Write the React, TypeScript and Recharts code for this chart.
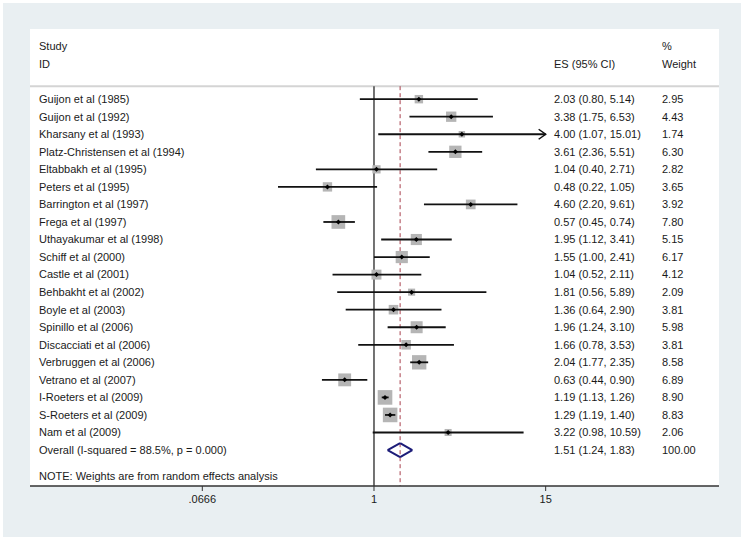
import React from 'react';
import { ScatterChart, Scatter, XAxis, YAxis, ReferenceLine, CartesianGrid, ErrorBar } from 'recharts';

const studies = [
  'Guijon et al (1985)',
  'Guijon et al (1992)',
  'Kharsany et al (1993)',
  'Platz-Christensen et al (1994)',
  'Eltabbakh et al (1995)',
  'Peters et al (1995)',
  'Barrington et al (1997)',
  'Frega et al (1997)',
  'Uthayakumar et al (1998)',
  'Schiff et al (2000)',
  'Castle et al (2001)',
  'Behbakht et al (2002)',
  'Boyle et al (2003)',
  'Spinillo et al (2006)',
  'Discacciati et al (2006)',
  'Verbruggen et al (2006)',
  'Vetrano et al (2007)',
  'I-Roeters et al (2009)',
  'S-Roeters et al (2009)',
  'Nam et al (2009)',
];
const es = [2.03, 3.38, 4.0, 3.61, 1.04, 0.48, 4.6, 0.57, 1.95, 1.55, 1.04, 1.81, 1.36, 1.96, 1.66, 2.04, 0.63, 1.19, 1.29, 3.22];
const lower = [0.8, 1.75, 1.07, 2.36, 0.4, 0.22, 2.2, 0.45, 1.12, 1.0, 0.52, 0.56, 0.64, 1.24, 0.78, 1.77, 0.44, 1.13, 1.19, 0.98];
const upper = [5.14, 6.53, 15.01, 5.51, 2.71, 1.05, 9.61, 0.74, 3.41, 2.41, 2.11, 5.89, 2.9, 3.1, 3.53, 2.35, 0.9, 1.26, 1.4, 10.59];
const weights = [2.95, 4.43, 1.74, 6.3, 2.82, 3.65, 3.92, 7.8, 5.15, 6.17, 4.12, 2.09, 3.81, 5.98, 3.81, 8.58, 6.89, 8.9, 8.83, 2.06];
const overall = { es: 1.51, lower: 1.24, upper: 1.83, weight: 100 };
const overallLabel = 'Overall  (I-squared = 88.5%, p = 0.000)';
const note = 'NOTE: Weights are from random effects analysis';
const xTicks = [1 / 15, 1, 15];
const xTickLabels = ['.0666', '1', '15'];

// layout
const W = 744;
const H = 540;
const margin = { top: 29, right: 23, bottom: 0, left: 29 };
const X_DOMAIN = [0.0044, 231];
const Y_DOMAIN = [-4, 22.05];
const ROW_STUDY = -3;
const ROW_ID = -2;
const ROW_SEP = -0.74;
const ROW_NOTE = 21.48;
const CLIP = 15;
const DIAMOND_H = 0.4;
const font = "'Liberation Sans', Arial, sans-serif";

const fmt = (v: number) => v.toFixed(2);

const rows = studies.map((name, i) => ({
  name,
  x: es[i],
  y: i,
  lo: lower[i],
  hi: upper[i],
  w: weights[i],
  // CI drawn as error bar, clipped at the right end of the axis
  err: [es[i] - lower[i], Math.min(upper[i], CLIP) - es[i]],
}));
const overallRow = studies.length;
const arrows = rows.filter((r) => r.hi > CLIP).map((r) => ({ x: CLIP, y: r.y }));

const nameLabels = new Map<number, string>([
  [ROW_STUDY, 'Study'],
  [ROW_ID, 'ID'],
  ...rows.map((r) => [r.y, r.name] as [number, string]),
  [overallRow, overallLabel],
  [ROW_NOTE, note],
]);
const esLabels = new Map<number, string>([
  [ROW_ID, 'ES (95% CI)'],
  ...rows.map((r) => [r.y, `${fmt(r.x)} (${fmt(r.lo)}, ${fmt(r.hi)})`] as [number, string]),
  [overallRow, `${fmt(overall.es)} (${fmt(overall.lower)}, ${fmt(overall.upper)})`],
]);
const weightLabels = new Map<number, string>([
  [ROW_STUDY, '%'],
  [ROW_ID, 'Weight'],
  ...rows.map((r) => [r.y, fmt(r.w)] as [number, string]),
  [overallRow, fmt(overall.weight)],
]);

const makeTick = (labels: Map<number, string>, left: number) => (props: any) => {
  const { y, payload } = props;
  const text = labels.get(payload.value);
  if (!text) return <g />;
  return (
    <text x={left} y={y} dy="0.35em" fontSize={11} fill="#1a1a1a" fontFamily={font} textAnchor="start">
      {text}
    </text>
  );
};

const StudyBox = (props: any) => {
  const { cx, cy, payload } = props;
  const s = 4.9 * Math.sqrt(payload.w);
  return <rect x={cx - s / 2} y={cy - s / 2} width={s} height={s} fill="#b5b5b5" />;
};

const StudyPoint = (props: any) => {
  const { cx, cy } = props;
  const r = 2.5;
  return <path d={`M${cx - r},${cy}L${cx},${cy - r}L${cx + r},${cy}L${cx},${cy + r}Z`} fill="#000" />;
};

const Arrow = (props: any) => {
  const { cx, cy } = props;
  return <path d={`M${cx - 7},${cy - 5}L${cx},${cy}L${cx - 7},${cy + 5}`} fill="none" stroke="#111" strokeWidth={1.5} />;
};

export default function App() {
  const diamond = [
    [{ x: overall.lower, y: overallRow }, { x: overall.es, y: overallRow - DIAMOND_H }],
    [{ x: overall.es, y: overallRow - DIAMOND_H }, { x: overall.upper, y: overallRow }],
    [{ x: overall.upper, y: overallRow }, { x: overall.es, y: overallRow + DIAMOND_H }],
    [{ x: overall.es, y: overallRow + DIAMOND_H }, { x: overall.lower, y: overallRow }],
  ];
  return (
    <div
      style={{
        position: 'absolute',
        left: 0,
        top: 0,
        width: W,
        height: H,
        background: '#e9eff2',
        boxSizing: 'border-box',
        border: '3px solid #fff',
      }}
    >
      <div style={{ position: 'absolute', left: -3, top: -3 }}>
        <ScatterChart width={W} height={H} margin={margin}>
          <CartesianGrid fill="#fff" horizontal={false} vertical={false} />
          <XAxis
            type="number"
            dataKey="x"
            scale="log"
            domain={X_DOMAIN}
            allowDataOverflow
            ticks={xTicks}
            tickFormatter={(v: number) => xTickLabels[xTicks.indexOf(v)]}
            axisLine={{ stroke: '#333', strokeWidth: 1.5 }}
            tickLine={{ stroke: '#333' }}
            tickSize={5}
            tickMargin={4}
            tick={{ fontSize: 11, fill: '#1a1a1a', fontFamily: font }}
            interval={0}
            height={54}
          />
          <YAxis
            yAxisId="names"
            type="number"
            dataKey="y"
            domain={Y_DOMAIN}
            reversed
            allowDataOverflow
            ticks={[...nameLabels.keys()]}
            interval={0}
            width={1}
            axisLine={false}
            tickLine={false}
            tick={makeTick(nameLabels, 39)}
          />
          <YAxis
            yAxisId="es"
            orientation="right"
            type="number"
            domain={Y_DOMAIN}
            reversed
            allowDataOverflow
            ticks={[...esLabels.keys()]}
            interval={0}
            width={1}
            axisLine={false}
            tickLine={false}
            tick={makeTick(esLabels, 554)}
          />
          <YAxis
            yAxisId="w"
            orientation="right"
            type="number"
            domain={Y_DOMAIN}
            reversed
            allowDataOverflow
            ticks={[...weightLabels.keys()]}
            interval={0}
            width={1}
            axisLine={false}
            tickLine={false}
            tick={makeTick(weightLabels, 662)}
          />
          <ReferenceLine yAxisId="names" y={ROW_SEP} stroke="#d4d4d4" strokeWidth={2} />
          <ReferenceLine
            yAxisId="names"
            segment={[{ x: 1, y: ROW_SEP }, { x: 1, y: Y_DOMAIN[1] }]}
            stroke="#444"
            strokeWidth={1.5}
          />
          <ReferenceLine
            yAxisId="names"
            segment={[{ x: overall.es, y: ROW_SEP }, { x: overall.es, y: Y_DOMAIN[1] }]}
            stroke="#a8404e"
            strokeDasharray="4 3"
            strokeWidth={1}
          />
          {diamond.map((seg, i) => (
            <ReferenceLine key={`d${i}`} yAxisId="names" segment={seg} stroke="#1c1c78" strokeWidth={2} />
          ))}
          <Scatter yAxisId="names" data={rows} shape={<StudyBox />} isAnimationActive={false} zIndex={500} />
          <Scatter yAxisId="names" data={rows} shape={<StudyPoint />} isAnimationActive={false} zIndex={700}>
            <ErrorBar
              dataKey="err"
              direction="x"
              width={0}
              stroke="#111"
              strokeWidth={1.8}
              isAnimationActive={false}
              zIndex={650}
            />
          </Scatter>
          <Scatter yAxisId="names" data={arrows} shape={<Arrow />} isAnimationActive={false} zIndex={700} />
        </ScatterChart>
      </div>
    </div>
  );
}
